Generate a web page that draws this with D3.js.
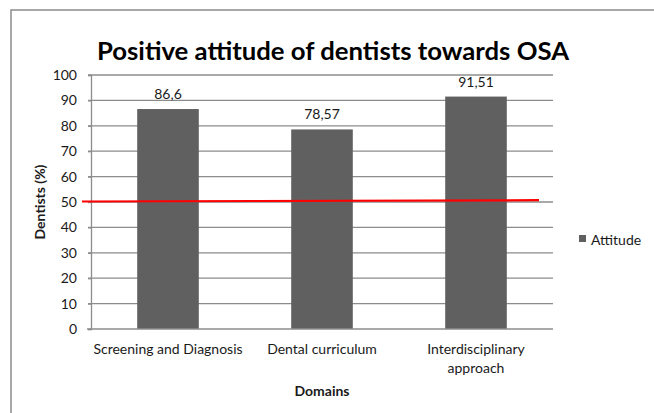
<!DOCTYPE html>
<html>
<head>
<meta charset="utf-8">
<script src="https://cdn.jsdelivr.net/npm/d3@7"></script>
<style>
  body { margin: 0; background: #fff; }
  text { font-family: Lato, "Liberation Sans", sans-serif; fill: #1a1a1a; }
</style>
</head>
<body>
<div id="chart"></div>
<script>
const categories = ["Screening and Diagnosis", "Dental curriculum", "Interdisciplinary approach"];
const categoryLines = [["Screening and Diagnosis"], ["Dental curriculum"], ["Interdisciplinary", "approach"]];
const attitude = [86.6, 78.57, 91.51];
const valueLabels = ["86,6", "78,57", "91,51"];
const yTicks = [0, 10, 20, 30, 40, 50, 60, 70, 80, 90, 100];
const threshold = [50.2, 50.7]; // red reference line, slightly tilted as drawn

const W = 654, H = 413;
const margin = { top: 75, right: 101, bottom: 84, left: 91 };
const width = W - margin.left - margin.right;
const height = H - margin.top - margin.bottom;
const fs = "14px";

const root = d3.select("#chart").append("svg")
  .attr("width", W)
  .attr("height", H);

// outer frame (right/bottom edges cropped)
root.append("path")
  .attr("d", `M11,${H + 5} L11,10 L${W + 5},10`)
  .attr("fill", "none")
  .attr("stroke", "#8c8c8c")
  .attr("stroke-width", 1.5);

root.append("text")
  .attr("x", 333)
  .attr("y", 60)
  .attr("text-anchor", "middle")
  .attr("textLength", 472)
  .attr("lengthAdjust", "spacingAndGlyphs")
  .style("font-size", "25px")
  .style("font-weight", "bold")
  .style("fill", "#000")
  .text("Positive attitude of dentists towards OSA");

const svg = root.append("g")
  .attr("transform", `translate(${margin.left}, ${margin.top})`);

const x = d3.scaleBand()
  .domain(categories)
  .range([0, width])
  .paddingInner(0.6)
  .paddingOuter(0.3);

const y = d3.scaleLinear()
  .domain([0, 100])
  .range([height, 0]);

// gridlines
svg.append("g")
  .selectAll("line")
  .data(yTicks.filter(d => d > 0))
  .enter()
  .append("line")
  .attr("x1", -3)
  .attr("x2", width)
  .attr("y1", d => y(d))
  .attr("y2", d => y(d))
  .attr("stroke", "#8c8c8c")
  .attr("stroke-width", 1.3);

// y axis
const yAxis = d3.axisLeft(y).tickValues(yTicks).tickSize(3).tickPadding(11);
const yg = svg.append("g").call(yAxis);
yg.select(".domain").attr("stroke", "#8c8c8c").attr("stroke-width", 1.3);
yg.selectAll(".tick line").attr("stroke", "#8c8c8c").attr("stroke-width", 1.3);
yg.selectAll(".tick text").style("font-size", fs).style("font-family", "Lato, sans-serif").attr("fill", "#1a1a1a");

// bars
svg.selectAll("rect.bar")
  .data(attitude)
  .enter()
  .append("rect")
  .attr("class", "bar")
  .attr("x", (d, i) => x(categories[i]))
  .attr("y", d => y(d))
  .attr("width", x.bandwidth())
  .attr("height", d => height - y(d))
  .attr("fill", "#606060");

// value labels
svg.selectAll("text.val")
  .data(attitude)
  .enter()
  .append("text")
  .attr("class", "val")
  .attr("x", (d, i) => x(categories[i]) + x.bandwidth() / 2)
  .attr("y", d => y(d) - 10)
  .attr("text-anchor", "middle")
  .style("font-size", fs)
  .text((d, i) => valueLabels[i]);

// x axis
svg.append("line")
  .attr("x1", -4)
  .attr("x2", width)
  .attr("y1", height)
  .attr("y2", height)
  .attr("stroke", "#8c8c8c")
  .attr("stroke-width", 1.3);

categoryLines.forEach((lines, i) => {
  const t = svg.append("text")
    .attr("x", x(categories[i]) + x.bandwidth() / 2)
    .attr("y", height + 25)
    .attr("text-anchor", "middle")
    .style("font-size", fs);
  lines.forEach((l, j) => {
    t.append("tspan")
      .attr("x", x(categories[i]) + x.bandwidth() / 2)
      .attr("dy", j === 0 ? 0 : 19)
      .text(l);
  });
});

// red reference line
svg.append("line")
  .attr("x1", -9)
  .attr("x2", width - 14)
  .attr("y1", y(threshold[0]))
  .attr("y2", y(threshold[1]))
  .attr("stroke", "#ff0000")
  .attr("stroke-width", 2.2);

// axis titles
svg.append("text")
  .attr("x", width / 2)
  .attr("y", height + 67)
  .attr("text-anchor", "middle")
  .style("font-size", fs)
  .style("font-weight", "bold")
  .text("Domains");

svg.append("text")
  .attr("transform", "rotate(-90)")
  .attr("x", -y(50))
  .attr("y", -46)
  .attr("text-anchor", "middle")
  .style("font-size", fs)
  .style("font-weight", "bold")
  .text("Dentists (%)");

// legend
const legend = root.append("g").attr("transform", "translate(579, 235)");
legend.append("rect")
  .attr("width", 7)
  .attr("height", 7)
  .attr("fill", "#606060");
legend.append("text")
  .attr("x", 12)
  .attr("y", 10)
  .style("font-size", fs)
  .text("Attitude");
</script>
</body>
</html>
